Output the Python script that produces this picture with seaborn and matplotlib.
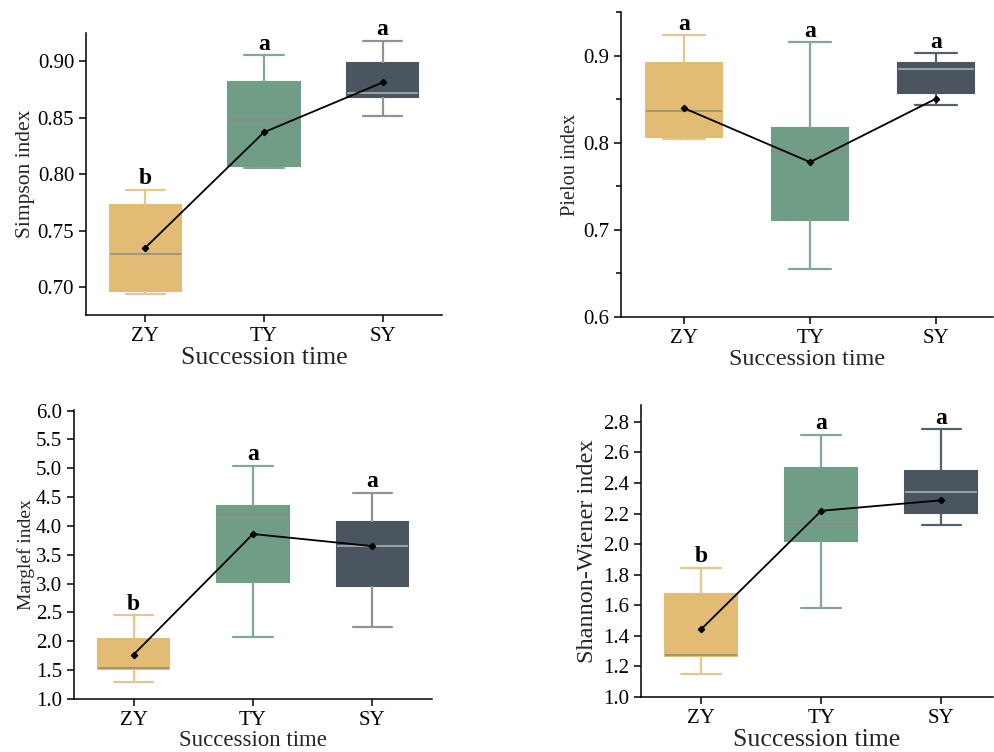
import numpy as np
import pandas as pd
import seaborn as sns
import matplotlib
matplotlib.use("Agg")
import matplotlib.pyplot as plt
from matplotlib.ticker import MultipleLocator, FormatStrFormatter

categories = ["ZY", "TY", "SY"]

# Simpson index
simpson_whislo = [0.694, 0.805, 0.851]
simpson_q1 = [0.697, 0.807, 0.8685]
simpson_med = [0.729, 0.848, 0.872]
simpson_q3 = [0.773, 0.881, 0.8985]
simpson_whishi = [0.786, 0.905, 0.918]
simpson_mean = [0.735, 0.837, 0.881]
simpson_letters = ["b", "a", "a"]

# Pielou index
pielou_whislo = [0.804, 0.655, 0.844]
pielou_q1 = [0.807, 0.711, 0.858]
pielou_med = [0.837, 0.791, 0.885]
pielou_q3 = [0.892, 0.817, 0.892]
pielou_whishi = [0.924, 0.916, 0.903]
pielou_mean = [0.840, 0.778, 0.851]
pielou_letters = ["a", "a", "a"]

# Margalef index
marg_whislo = [1.29, 2.08, 2.24]
marg_q1 = [1.52, 3.02, 2.96]
marg_med = [1.54, 4.20, 3.65]
marg_q3 = [2.04, 4.34, 4.07]
marg_whishi = [2.45, 5.04, 4.57]
marg_mean = [1.77, 3.86, 3.65]
marg_letters = ["b", "a", "a"]

# Shannon-Wiener index
shan_whislo = [1.148, 1.585, 2.124]
shan_q1 = [1.270, 2.019, 2.202]
shan_med = [1.277, 2.130, 2.340]
shan_q3 = [1.672, 2.501, 2.479]
shan_whishi = [1.847, 2.717, 2.752]
shan_mean = [1.443, 2.218, 2.287]
shan_letters = ["b", "a", "a"]

fill_colors = ["#E2BC74", "#6F9D86", "#4A5560"]
median_colors = ["#A0947E", "#8C8A88", "#9EA3A6"]

sns.set_style("ticks")
plt.rcParams["font.family"] = ["Liberation Serif", "DejaVu Serif"]
plt.rcParams["axes.linewidth"] = 1.1

fig = plt.figure(figsize=(9.94, 7.52), dpi=100)


def panel(rect, lo, q1, med, q3, hi, mean, letters, ylim, xlim, major, minor,
          fmt, ylabel, whisker_colors, xl_size, yl_size, xpad, ypad):
    ax = fig.add_axes(rect)
    rows = []
    for c, a, b, m, d, e in zip(categories, lo, q1, med, q3, hi):
        for v in (a, b, m, d, e):
            rows.append((c, v))
    df = pd.DataFrame(rows, columns=["group", "value"])
    sns.boxplot(data=df, x="group", y="value", hue="group", order=categories,
                hue_order=categories, palette=fill_colors, whis=(0, 100),
                width=0.6, fliersize=0, linewidth=1.5, legend=False, ax=ax)
    for cont, fc, wc, mc in zip(ax.containers, fill_colors, whisker_colors,
                                median_colors):
        for b in cont.boxes:
            b.set_facecolor(fc)
            b.set_edgecolor(fc)
        for ln in list(cont.whiskers) + list(cont.caps):
            ln.set_color(wc)
            ln.set_linewidth(1.6)
        for ln in cont.medians:
            ln.set_color(mc)
            ln.set_linewidth(1.4)
        for cap in cont.caps:
            xd = cap.get_xdata()
            cc = (xd[0] + xd[1]) / 2
            cap.set_xdata([cc - 0.165, cc + 0.165])
    mdf = pd.DataFrame({"group": categories, "mean": mean})
    sns.pointplot(data=mdf, x="group", y="mean", order=categories,
                  color="black", markers="D", markersize=3.2, linewidth=1.3,
                  errorbar=None, ax=ax, zorder=5)
    for i, (h, t) in enumerate(zip(hi, letters)):
        ax.annotate(t, (i, h), xytext=(0, 4), textcoords="offset points",
                    ha="center", va="baseline", fontweight="bold",
                    fontsize=17, color="black")
    ax.set_ylim(*ylim)
    ax.set_xlim(*xlim)
    ax.yaxis.set_major_locator(MultipleLocator(major))
    if minor:
        ax.yaxis.set_minor_locator(MultipleLocator(minor))
    ax.yaxis.set_major_formatter(FormatStrFormatter(fmt))
    ax.tick_params(axis="both", which="major", labelsize=15, length=5,
                   width=1.1, color="black", labelcolor="black", direction="out")
    ax.tick_params(axis="y", which="minor", length=3.5, width=1.1,
                   color="black")
    ax.set_xlabel("Succession time", fontsize=xl_size, labelpad=xpad)
    ax.set_ylabel(ylabel, fontsize=yl_size, labelpad=ypad)
    for s in ("top", "right"):
        ax.spines[s].set_visible(False)
    for s in ("left", "bottom"):
        ax.spines[s].set_color("black")
    return ax


panel([0.0865, 0.5811, 0.3581, 0.375], simpson_whislo, simpson_q1, simpson_med,
      simpson_q3, simpson_whishi, simpson_mean, simpson_letters,
      (0.6755, 0.9247), (-0.5, 2.5), 0.05, None, "%.2f", "Simpson index",
      ["#E6C68C", "#80A894", "#8E9398"], 18.5, 15.5, 1, 2)

panel([0.6247, 0.5785, 0.3742, 0.4056], pielou_whislo, pielou_q1, pielou_med,
      pielou_q3, pielou_whishi, pielou_mean, pielou_letters,
      (0.6, 0.9506), (-0.5, 2.45), 0.1, 0.05, "%.1f", "Pielou index",
      ["#E6C68C", "#80A894", "#56606A"], 17.4, 14.7, 1, 2)

panel([0.0744, 0.0705, 0.3602, 0.3843], marg_whislo, marg_q1, marg_med,
      marg_q3, marg_whishi, marg_mean, marg_letters,
      (1.0, 6.01), (-0.5, 2.5), 0.5, None, "%.1f", "Marglef index",
      ["#E6C68C", "#80A894", "#8E9398"], 16.5, 14.0, 0, 1)

panel([0.6449, 0.0731, 0.3541, 0.3883], shan_whislo, shan_q1, shan_med,
      shan_q3, shan_whishi, shan_mean, shan_letters,
      (1.0, 2.91), (-0.5, 2.43), 0.2, None, "%.1f", "Shannon-Wiener index",
      ["#E6C68C", "#80A894", "#56606A"], 18.6, 17.5, 1, 4)

fig.savefig("out.png", dpi=100)
